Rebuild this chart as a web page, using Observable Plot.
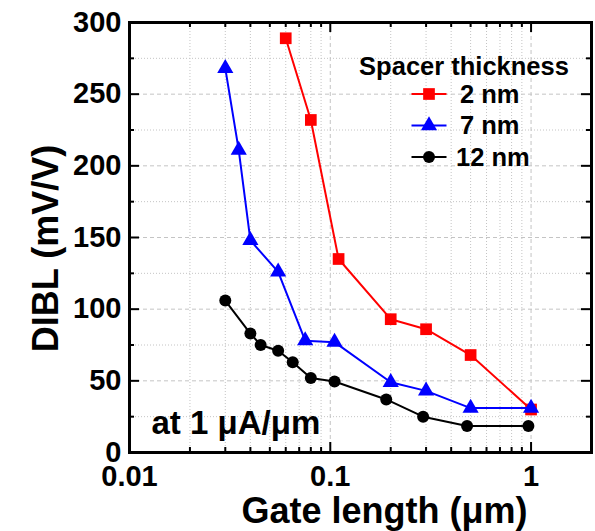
<!DOCTYPE html>
<html>
<head>
<meta charset="utf-8">
<script src="https://cdn.jsdelivr.net/npm/d3@7"></script>
<script src="https://cdn.jsdelivr.net/npm/@observablehq/plot@0.6"></script>
<style>
  body { margin: 0; background: #fff; }
  #chart svg { display: block; }
</style>
</head>
<body>
<div id="chart"></div>
<script>
// Series definitions
const seriesNames = ["2 nm", "7 nm", "12 nm"];
const seriesColors = ["#ff0000", "#0000ff", "#000000"];
const seriesSymbols = ["square", "triangle", "circle"];
const seriesRadius = [6.6, 6, 6];

// Gate length (µm) and DIBL (mV/V) per spacer thickness
const gate2nm = [0.06, 0.08, 0.11, 0.2, 0.3, 0.5, 1];
const dibl2nm = [289, 232, 135, 93, 86, 68, 30];
const gate7nm = [0.03, 0.035, 0.04, 0.055, 0.075, 0.105, 0.2, 0.3, 0.5, 1];
const dibl7nm = [268, 211, 148, 126, 78, 77, 49, 43, 31, 31];
const gate12nm = [0.03, 0.04, 0.045, 0.055, 0.065, 0.08, 0.105, 0.19, 0.29, 0.48, 0.97];
const dibl12nm = [106, 83, 75, 71, 63, 52, 49.5, 37, 25, 18.5, 18.5];

// Axis ticks
const xMajor = [0.01, 0.1, 1];
const xTickLabels = ["0.01", "0.1", "1"];
const xMinor = [0.02, 0.03, 0.04, 0.05, 0.06, 0.07, 0.08, 0.09, 0.2, 0.3, 0.4, 0.5, 0.6, 0.7, 0.8, 0.9, 2];
const yMajor = [0, 50, 100, 150, 200, 250, 300];
const yMinor = [25, 75, 125, 175, 225, 275];

const xTitle = "Gate length (\u03bcm)";
const yTitle = "DIBL (mV/V)";
const note = "at 1 \u03bcA/\u03bcm";
const legendTitle = "Spacer thickness";

const gates = [gate2nm, gate7nm, gate12nm];
const dibls = [dibl2nm, dibl7nm, dibl12nm];
const rows = seriesNames.flatMap((name, s) =>
  gates[s].map((g, i) => ({series: name, gate: g, dibl: dibls[s][i]}))
);

const W = 595, H = 531;
const mL = 129, mR = 4, mT = 22, mB = 79;
const fw = W - mL - mR, fh = H - mT - mB;
const grid = "#c4c4c4";
const font = "'Liberation Sans', Arial, sans-serif";

const seriesMarks = seriesNames.flatMap((name, s) => {
  const data = rows.filter(d => d.series === name);
  return [
    Plot.line(data, {x: "gate", y: "dibl", stroke: seriesColors[s], strokeWidth: 2}),
    Plot.dot(data, {x: "gate", y: "dibl", symbol: () => seriesSymbols[s], r: seriesRadius[s], fill: seriesColors[s], stroke: "none"})
  ];
});

const chart = Plot.plot({
  width: W,
  height: H,
  marginLeft: mL,
  marginRight: mR,
  marginTop: mT,
  marginBottom: mB,
  style: {fontFamily: font, fontSize: "29px", fontWeight: "bold", color: "#000", background: "#fff"},
  x: {type: "log", domain: [0.01, 2], axis: null},
  y: {domain: [0, 300]},
  symbol: {type: "identity"},
  marks: [
    // grid
    Plot.ruleY(yMinor, {stroke: grid, strokeWidth: 1, strokeDasharray: "1,2"}),
    Plot.ruleX(xMinor, {stroke: grid, strokeWidth: 1, strokeDasharray: "1,2"}),
    Plot.ruleY(yMajor.slice(1, -1), {stroke: grid, strokeWidth: 1, strokeDasharray: "4,3"}),
    Plot.ruleX(xMajor.slice(1), {stroke: grid, strokeWidth: 1, strokeDasharray: "4,3"}),
    // inward ticks on all four sides
    Plot.tickY(yMajor, {y: d => d, stroke: "#000", strokeWidth: 2, insetRight: fw - 10}),
    Plot.tickY(yMajor, {y: d => d, stroke: "#000", strokeWidth: 2, insetLeft: fw - 10}),
    Plot.tickY(yMinor, {y: d => d, stroke: "#000", strokeWidth: 2, insetRight: fw - 5}),
    Plot.tickY(yMinor, {y: d => d, stroke: "#000", strokeWidth: 2, insetLeft: fw - 5}),
    Plot.tickX(xMajor, {x: d => d, stroke: "#000", strokeWidth: 2, insetTop: fh - 10}),
    Plot.tickX(xMajor, {x: d => d, stroke: "#000", strokeWidth: 2, insetBottom: fh - 10}),
    Plot.tickX(xMinor, {x: d => d, stroke: "#000", strokeWidth: 2, insetTop: fh - 5}),
    Plot.tickX(xMinor, {x: d => d, stroke: "#000", strokeWidth: 2, insetBottom: fh - 5}),
    // tick labels
    Plot.text(xMajor, {x: d => d, text: (d, i) => xTickLabels[i], frameAnchor: "bottom", textAnchor: "middle", lineAnchor: "top", dy: 13, fontSize: 29, fontWeight: "bold"}),
    Plot.axisY({ticks: yMajor, tickSize: 0, tickPadding: 8, label: null}),
    // data
    ...seriesMarks,
    Plot.frame({stroke: "#000", strokeWidth: 3}),
    // titles and annotation
    Plot.text([xTitle], {text: d => d, frameAnchor: "bottom", textAnchor: "middle", lineAnchor: "bottom", dx: 24, dy: 70, fontSize: 36, fontWeight: "bold"}),
    Plot.text([yTitle], {text: d => d, frameAnchor: "left", textAnchor: "middle", lineAnchor: "middle", rotate: -90, dx: -83, dy: 11, fontSize: 36, fontWeight: "bold"}),
    Plot.text([note], {text: d => d, frameAnchor: "bottom-left", textAnchor: "start", lineAnchor: "bottom", dx: 22, dy: -19, fontSize: 33, fontWeight: "bold"})
  ]
});

// Legend in the upper right of the frame
const svg = d3.select(chart);
const lg = svg.append("g")
  .attr("font-family", font)
  .attr("font-weight", "bold")
  .attr("font-size", 25.5);
const lx = mL + fw - 162;   // marker centre of the legend rows
lg.append("text")
  .attr("x", lx + 35)
  .attr("y", 75)
  .attr("text-anchor", "middle")
  .attr("fill", "#000")
  .text(legendTitle);
const symbolTypes = {square: d3.symbolSquare, triangle: d3.symbolTriangle, circle: d3.symbolCircle};
seriesNames.forEach((name, s) => {
  const cy = 94 + s * 31.5;
  lg.append("line")
    .attr("x1", lx - 17.5).attr("x2", lx + 17.5)
    .attr("y1", cy).attr("y2", cy)
    .attr("stroke", seriesColors[s]).attr("stroke-width", 2);
  lg.append("path")
    .attr("transform", `translate(${lx},${cy})`)
    .attr("d", d3.symbol(symbolTypes[seriesSymbols[s]], Math.PI * seriesRadius[s] ** 2)())
    .attr("fill", seriesColors[s]);
  lg.append("text")
    .attr("x", lx + (s === 2 ? 27 : 31))
    .attr("y", cy + 8.5)
    .attr("text-anchor", "start")
    .attr("fill", "#000")
    .text(name);
});

document.getElementById("chart").appendChild(chart);
</script>
</body>
</html>
